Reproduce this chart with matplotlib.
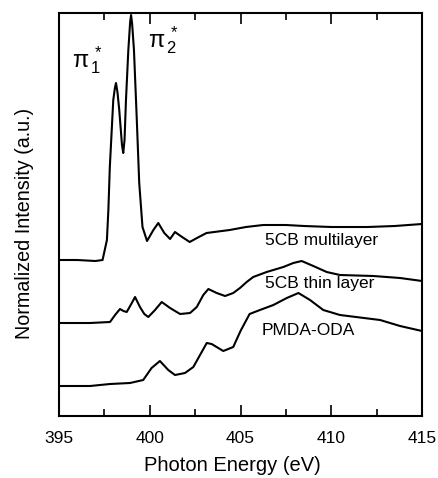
import matplotlib
matplotlib.use("Agg")
import matplotlib.pyplot as plt
from matplotlib.ticker import MultipleLocator, NullLocator

plt.rcParams['font.family'] = ['Liberation Sans', 'DejaVu Sans']
plt.rcParams['mathtext.fontset'] = 'custom'
plt.rcParams['mathtext.rm'] = 'Liberation Sans'
plt.rcParams['mathtext.it'] = 'Liberation Sans'

# 5CB multilayer
multi_e = [395.0, 396.0, 397.0, 397.4, 397.64, 397.72, 397.8, 397.99, 398.08, 398.14,
           398.22, 398.32, 398.47, 398.54, 398.61, 398.69, 398.82, 398.92, 398.97, 399.03,
           399.13, 399.28, 399.42, 399.6, 399.85, 400.2, 400.47, 400.8, 401.12, 401.39,
           401.7, 402.2, 402.6, 403.13, 404.4, 405.3, 406.25, 407.5, 408.5, 410.0,
           412.0, 413.5, 415.0]
multi_i = [156, 156, 155, 156, 176, 206, 249, 316, 328, 333,
           324, 306, 271, 263, 276, 316, 366, 394, 401, 392,
           366, 299, 233, 189, 175, 186, 193, 183, 177, 184,
           180, 174, 178, 183, 186, 189, 191, 191, 190, 189,
           189, 190, 192]

# 5CB thin layer
thin_e = [395.0, 396.7, 397.81, 398.09, 398.36, 398.55, 398.73, 398.95, 399.19, 399.46,
          399.7, 399.92, 400.29, 400.66, 401.12, 401.67, 402.22, 402.59, 402.95, 403.23,
          403.69, 404.15, 404.6, 404.97, 405.34, 405.7, 406.44, 407.36, 407.91, 408.37,
          409.01, 409.75, 410.48, 412.32, 413.79, 415.0]
thin_i = [93, 93, 94, 101, 107, 105, 104, 111, 119, 109,
          102, 99, 106, 114, 108, 102, 103, 109, 121, 127,
          123, 120, 123, 128, 134, 139, 144, 149, 153, 155,
          150, 144, 141, 140, 138, 135]

# PMDA-ODA
pmda_e = [395.0, 396.71, 397.81, 398.91, 399.64, 400.1, 400.56, 401.02, 401.39, 401.94,
          402.4, 402.77, 403.14, 403.41, 404.05, 404.6, 405.0, 405.5, 406.07, 406.81,
          407.55, 408.19, 408.83, 409.56, 410.48, 412.69, 413.79, 415.0]
pmda_i = [30, 30, 32, 33, 36, 48, 55, 46, 41, 43,
          49, 61, 73, 72, 65, 69, 85, 102, 106, 111,
          118, 123, 116, 106, 101, 96, 90, 85]

fig = plt.figure(figsize=(4.39, 4.78), dpi=100)
ax = fig.add_axes([0.1344, 0.1297, 0.8269, 0.8431])

for e, i in [(multi_e, multi_i), (thin_e, thin_i), (pmda_e, pmda_i)]:
    ax.plot(e, i, color='black', lw=1.5)

ax.text(406.35, 176, '5CB multilayer', fontsize=12.5, va='center')
ax.text(406.35, 133, '5CB thin layer', fontsize=12.5, va='center')
ax.text(406.17, 86, 'PMDA-ODA', fontsize=12.5, va='center')
ax.text(395.7, 349, r'$\pi_{\,1}^{\,*}$', fontsize=17)
ax.text(399.9, 369, r'$\pi_{\,2}^{\,*}$', fontsize=17)

ax.set_xlim(395, 415)
ax.set_ylim(0, 403)
ax.xaxis.set_major_locator(MultipleLocator(5))
ax.xaxis.set_minor_locator(MultipleLocator(2.5))
ax.yaxis.set_major_locator(NullLocator())
ax.tick_params(axis='x', which='both', direction='in', top=True, labelsize=12.5, pad=11)
ax.tick_params(axis='x', which='major', length=8, width=1.2)
ax.tick_params(axis='x', which='minor', length=5, width=1.2)
for s in ax.spines.values():
    s.set_linewidth(1.5)

ax.set_xlabel('Photon Energy (eV)', fontsize=14.5)
ax.set_ylabel('Normalized Intensity (a.u.)', fontsize=14.2)
ax.xaxis.set_label_coords(0.477, -0.10)
ax.yaxis.set_label_coords(-0.07, 0.479)

fig.savefig('out.png', dpi=100)
